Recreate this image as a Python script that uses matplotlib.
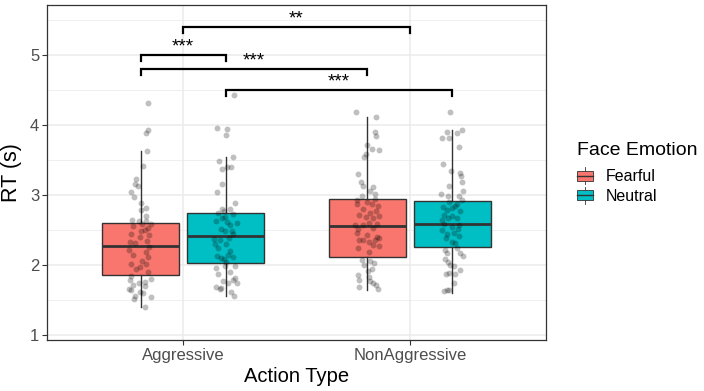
import numpy as np
import matplotlib
matplotlib.use("Agg")
import matplotlib.pyplot as plt
from matplotlib.patches import Patch, Rectangle
from matplotlib.lines import Line2D
from matplotlib.legend_handler import HandlerBase

plt.rcParams['font.family'] = ['Liberation Sans', 'DejaVu Sans']

# --- data ---
actions = ['Aggressive', 'NonAggressive']
emotions = ['Fearful', 'Neutral']
colors = ['#F8766D', '#00BFC4']

# box stats: whislo, q1, med, q3, whishi
stats_agg_fear = [1.40, 1.86, 2.27, 2.60, 3.63]
stats_agg_neut = [1.56, 2.03, 2.42, 2.74, 3.54]
stats_non_fear = [1.65, 2.12, 2.56, 2.94, 4.12]
stats_non_neut = [1.60, 2.26, 2.58, 2.92, 3.93]

# individual RTs (s) and their horizontal jitter
rt_agg_fear = [4.31, 3.93, 3.89, 3.63, 3.41, 3.23, 3.16, 3.13, 3.05, 2.97, 2.88, 2.82, 2.79, 2.70,
               2.63, 2.64, 2.63, 2.59, 2.58, 2.53, 2.56, 2.50, 2.48, 2.44, 2.43, 2.40, 2.33, 2.34,
               2.31, 2.26, 2.21, 2.19, 2.15, 2.12, 2.06, 2.02, 2.01, 1.97, 1.94, 1.90, 1.85, 1.75,
               1.79, 1.76, 1.80, 1.72, 1.66, 1.70, 1.62, 1.56, 1.55, 1.51, 1.40, 1.64, 1.60]
jit_agg_fear = [0.032, 0.032, 0.022, 0.028, 0.010, -0.018, -0.023, -0.013, -0.040, -0.029, 0.0,
                0.022, 0.0, 0.025, -0.009, -0.038, 0.022, 0.007, 0.048, 0.032, -0.032, 0.018, 0.0,
                -0.041, 0.035, -0.003, -0.048, 0.028, -0.023, 0.035, -0.050, 0.022, -0.035, 0.032,
                0.006, -0.044, 0.025, -0.003, -0.019, 0.031, -0.044, -0.007, -0.048, 0.018, 0.048,
                -0.032, -0.050, 0.019, -0.003, -0.026, 0.048, -0.029, 0.021, -0.043, 0.010]

rt_agg_neut = [4.43, 3.95, 3.94, 3.85, 3.55, 3.49, 3.37, 3.40, 3.40, 3.16, 3.04, 2.89, 2.80, 2.80,
               2.74, 2.77, 2.73, 2.69, 2.63, 2.62, 2.60, 2.52, 2.57, 2.44, 2.37, 2.48, 2.38, 2.36,
               2.30, 2.30, 2.24, 2.20, 2.13, 2.10, 2.09, 2.14, 2.12, 2.05, 1.98, 1.96, 1.98, 1.90,
               1.87, 1.82, 1.77, 1.79, 1.75, 1.68, 1.66, 1.67, 1.61, 1.56, 1.74, 2.67, 2.48]
jit_agg_neut = [0.035, -0.038, 0.006, 0.0, 0.031, -0.031, -0.016, 0.007, 0.022, -0.018, -0.038,
                0.043, -0.015, 0.018, -0.032, -0.007, 0.034, -0.003, -0.043, 0.006, 0.048, -0.021,
                0.021, 0.031, -0.050, -0.003, 0.015, -0.026, -0.047, 0.0, -0.035, 0.021, -0.040,
                -0.022, -0.009, 0.010, 0.034, 0.003, 0.040, -0.043, -0.003, 0.019, -0.034, 0.041,
                -0.013, 0.032, 0.050, -0.044, -0.026, -0.019, 0.023, 0.037, 0.009, -0.018, 0.026]

rt_non_fear = [4.19, 4.12, 3.90, 3.84, 3.71, 3.66, 3.64, 3.59, 3.54, 3.30, 3.18, 3.13, 3.12, 3.06,
               3.01, 2.99, 2.93, 2.94, 2.90, 2.87, 2.85, 2.87, 2.80, 2.77, 2.74, 2.72, 2.70, 2.68,
               2.67, 2.57, 2.60, 2.58, 2.57, 2.51, 2.53, 2.43, 2.46, 2.40, 2.36, 2.36, 2.36, 2.38,
               2.33, 2.25, 2.29, 2.27, 2.18, 2.07, 2.06, 2.00, 2.03, 1.94, 1.91, 1.86, 1.83, 1.79,
               1.77, 1.74, 1.69, 1.66, 1.71]
jit_non_fear = [-0.048, 0.038, 0.032, 0.037, -0.003, 0.022, 0.050, -0.007, -0.013, -0.043, -0.029,
                -0.021, 0.023, 0.012, 0.032, -0.022, -0.047, 0.034, 0.0, 0.019, 0.048, -0.047,
                -0.018, 0.037, 0.012, -0.035, 0.050, -0.006, 0.026, -0.054, 0.009, 0.041, -0.018,
                -0.041, 0.023, 0.0, -0.047, 0.041, -0.038, -0.018, 0.032, 0.050, 0.006, -0.043,
                0.023, 0.051, 0.009, -0.023, 0.012, -0.016, 0.029, 0.021, 0.001, -0.040, 0.009,
                -0.038, 0.013, 0.025, -0.037, 0.048, 0.037]

rt_non_neut = [4.18, 3.90, 3.93, 3.88, 3.81, 3.81, 3.69, 3.45, 3.34, 3.31, 3.27, 3.18, 3.13, 3.06,
               3.02, 2.98, 2.98, 2.93, 2.90, 2.87, 2.83, 2.85, 2.79, 2.81, 2.77, 2.71, 2.70, 2.64,
               2.67, 2.67, 2.59, 2.57, 2.55, 2.50, 2.52, 2.45, 2.46, 2.38, 2.41, 2.33, 2.32, 2.21,
               2.25, 2.17, 2.17, 2.13, 2.09, 2.04, 2.00, 1.98, 1.93, 1.87, 1.89, 1.87, 1.64, 1.63,
               1.65, 1.74]
jit_non_neut = [-0.009, -0.022, 0.041, 0.022, -0.046, -0.013, 0.029, -0.043, -0.006, 0.034, 0.038,
                0.041, -0.013, 0.046, -0.050, -0.018, 0.028, 0.040, -0.015, 0.022, -0.041, 0.013,
                -0.026, -0.001, 0.032, -0.037, 0.0, -0.048, -0.019, 0.021, -0.037, 0.028, -0.001,
                -0.044, 0.025, -0.023, 0.007, -0.029, 0.028, -0.004, 0.010, -0.031, 0.018, 0.032,
                -0.022, 0.046, -0.034, -0.019, -0.010, 0.007, 0.034, -0.029, -0.013, 0.013, -0.022,
                -0.037, -0.015, 0.006]

# significance comparisons: (group a, group b, bracket height, label)
comparisons = [
    (('Aggressive', None), ('NonAggressive', None), 5.40, '**'),
    (('Aggressive', 'Fearful'), ('Aggressive', 'Neutral'), 5.00, '***'),
    (('Aggressive', 'Fearful'), ('NonAggressive', 'Fearful'), 4.80, '***'),
    (('Aggressive', 'Neutral'), ('NonAggressive', 'Neutral'), 4.50, '***'),
]

groups = [
    ('Aggressive', 'Fearful', stats_agg_fear, rt_agg_fear, jit_agg_fear),
    ('Aggressive', 'Neutral', stats_agg_neut, rt_agg_neut, jit_agg_neut),
    ('NonAggressive', 'Fearful', stats_non_fear, rt_non_fear, jit_non_fear),
    ('NonAggressive', 'Neutral', stats_non_neut, rt_non_neut, jit_non_neut),
]

dodge = 0.1875
box_w = 0.34
edge = '#333333'


def xpos(action, emotion):
    x = actions.index(action) + 1
    if emotion is None:
        return x
    return x + (-dodge if emotion == 'Fearful' else dodge)


fig = plt.figure(figsize=(7.04, 3.91), dpi=100)
ax = fig.add_axes([47 / 704, 51 / 391, 499 / 704, 335 / 391])

for action, emo, st, rt, jit in groups:
    x = xpos(action, emo)
    b = dict(whislo=st[0], q1=st[1], med=st[2], q3=st[3], whishi=st[4], fliers=[])
    ax.bxp([b], positions=[x], widths=box_w, patch_artist=True, showcaps=False,
           showfliers=False, manage_ticks=False,
           boxprops=dict(facecolor=colors[emotions.index(emo)], edgecolor=edge, linewidth=1.0),
           whiskerprops=dict(color=edge, linewidth=1.0),
           medianprops=dict(color=edge, linewidth=2.0),
           zorder=2)
    ax.scatter(np.array(jit) + x, rt, s=18, color='black', alpha=0.25, linewidths=0, zorder=3)

# significance brackets
tick = 0.09
for a, b, y, lab in comparisons:
    x1, x2 = xpos(*a), xpos(*b)
    ax.plot([x1, x1, x2, x2], [y - tick, y, y, y - tick], color='black', lw=1.6,
            solid_joinstyle='miter', zorder=4)
    ax.text((x1 + x2) / 2, y + 0.05, lab, ha='center', va='baseline', fontsize=13.5, zorder=4)

ax.set_xlim(0.4, 2.6)
ax.set_ylim(0.929, 5.714)
ax.set_xticks([1, 2])
ax.set_xticklabels(actions)
ax.set_yticks([1, 2, 3, 4, 5])
ax.set_yticks([1.5, 2.5, 3.5, 4.5, 5.5], minor=True)
ax.grid(True, which='major', color='#EBEBEB', lw=1.1, zorder=0)
ax.grid(True, which='minor', axis='y', color='#EBEBEB', lw=0.55, zorder=0)
ax.set_axisbelow(True)
ax.tick_params(which='major', length=3.5, width=0.8, color='#333333', labelcolor='#4D4D4D',
               labelsize=12, pad=2)
ax.tick_params(which='minor', length=0)
for s in ax.spines.values():
    s.set_color('#333333')
    s.set_linewidth(0.9)

ax.set_xlabel('Action Type', fontsize=14.5, labelpad=3)
ax.set_ylabel('RT (s)', fontsize=15.5, labelpad=6)


class BoxKey(HandlerBase):
    def create_artists(self, legend, orig_handle, xdescent, ydescent, width, height,
                       fontsize, trans):
        x0, y0 = -xdescent, -ydescent
        vline = Line2D([x0 + width / 2] * 2, [y0 - height * 0.1, y0 + height * 1.1], color=edge,
                       lw=0.6, transform=trans)
        rect = Rectangle((x0, y0 + height * 0.15), width, height * 0.7,
                         facecolor=orig_handle.get_facecolor(), edgecolor=edge, lw=0.6,
                         transform=trans)
        hline = Line2D([x0, x0 + width], [y0 + height / 2] * 2,
                       color=edge, lw=1.0, transform=trans)
        return [vline, rect, hline]


handles = [Patch(facecolor=c) for c in colors]
leg = fig.legend(handles, emotions, title='Face Emotion', loc='center left',
                 bbox_to_anchor=(577 / 704, 0.558), frameon=False, fontsize=11.5,
                 title_fontsize=14, handler_map={Patch: BoxKey()}, handlelength=1.0,
                 handleheight=1.0, handletextpad=0.8, labelspacing=0.27, borderpad=0,
                 borderaxespad=0, alignment='left')
leg._legend_box.sep = 7

fig.savefig('out.png', dpi=100)
